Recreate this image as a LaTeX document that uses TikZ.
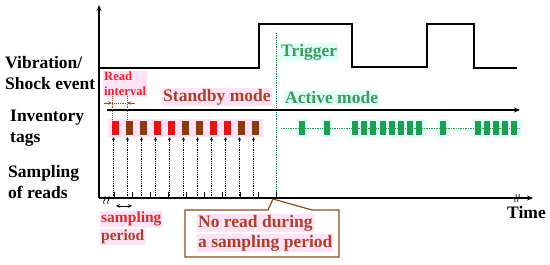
\documentclass[tikz,border=0pt]{standalone}
\usepackage{fontspec}
\setmainfont{Liberation Serif}
\usetikzlibrary{arrows.meta}
\definecolor{redtxt}{HTML}{E2262E}
\definecolor{browntxt}{HTML}{A3432A}
\definecolor{greentxt}{HTML}{3C9A5C}
\definecolor{tagred}{HTML}{E01414}
\definecolor{tagbrown}{HTML}{8A3A10}
\definecolor{taggreen}{HTML}{1F9E52}
\definecolor{pinkbg}{HTML}{FFE2F6}
\definecolor{cyanbg}{HTML}{DDFFF8}
\definecolor{callbrd}{HTML}{8E4A1C}
\tikzset{
  big/.style={font=\fontsize{17.5}{21}\selectfont\bfseries},
  lbl/.style={big, anchor=west, inner sep=0pt, align=left},
  axisline/.style={line width=1.4pt, -{Stealth[length=6pt,width=5pt]}},
  sigline/.style={line width=1.8pt},
  tagR/.style={fill=tagred, draw=none},
  tagB/.style={fill=tagbrown, draw=none},
  tagG/.style={fill=taggreen, draw=none},
  readarrow/.style={densely dotted, line width=0.8pt, -{Stealth[length=3.5pt,width=3pt]}},
  smallarrow/.style={line width=0.8pt, -{Stealth[length=4pt,width=3.5pt]}},
}
\begin{document}
\begin{tikzpicture}[x=1pt,y=-1pt]
\useasboundingbox (0,0) rectangle (550,265);

% left labels
\node[lbl] (vib) at (5,73) {\fontsize{17.5}{22}\selectfont Vibration/\\Shock event};
\node[lbl] (inv) at (10,128) {Inventory\\tags};
\node[lbl] (samp) at (8,182) {\fontsize{17.5}{19.5}\selectfont Sampling\\of reads};

% axes
\coordinate (O) at (99,198);
\coordinate (ytop) at (99,5);
\coordinate (xend) at (533,198);
\draw[axisline] (O) -- (ytop);
\draw[axisline] (O) -- (xend);

% signal
\draw[sigline] (99,68) -- (259,68) -- (259,24) -- (352,24) -- (352,67) -- (427,67) -- (427,24) -- (474,24) -- (474,68) -- (517,68);

% highlight backgrounds
\fill[pinkbg] (108,119) rectangle (263,137);
\fill[cyanbg] (296,119) rectangle (308,137);
\fill[cyanbg] (321,119) rectangle (332,137);
\fill[cyanbg] (349,119) rectangle (426,137);
\fill[cyanbg] (437,119) rectangle (449,137);
\fill[cyanbg] (472,119) rectangle (521,137);

% trigger line
\coordinate (trigtop) at (276,33);
\coordinate (trigbot) at (276,198);
\draw[taggreen!80!black, densely dotted, line width=0.8pt] (trigtop) -- (trigbot);
\node[lbl, text=greentxt, fill=cyanbg, inner sep=1pt] (trig) at (280,52) {Trigger};

% mode arrow
\coordinate (ms) at (107,110);
\coordinate (me) at (520,110);
\draw[axisline] (ms) -- (me);
\node[lbl, text=browntxt, fill=pinkbg, inner sep=1pt] (standby) at (162,97) {Standby mode};
\node[lbl, text=greentxt, fill=cyanbg, inner sep=1pt] (active) at (284,98) {Active mode};

% read interval
\node[lbl, text=redtxt, fill=pinkbg, inner sep=1pt, font=\fontsize{12.6}{15}\selectfont\bfseries] (ri) at (103,84) {Read\\interval};
\draw[browntxt, densely dotted, line width=0.9pt] (112,96) -- (112,121);
\draw[browntxt, densely dotted, line width=0.9pt] (127,96) -- (127,121);
\coordinate (ria) at (104,103);
\coordinate (rib) at (112,103);
\coordinate (ric) at (127,103);
\coordinate (rid) at (135,103);
\draw[browntxt, smallarrow] (ria) -- (rib);
\draw[browntxt, smallarrow] (rid) -- (ric);
\draw[browntxt, densely dotted, line width=0.9pt] (rib) -- (ric);

% standby tags and read arrows
\foreach \k/\c in {0/tagR,1/tagB,2/tagB,3/tagR,4/tagR,5/tagB,6/tagB,7/tagR,8/tagR,9/tagB,10/tagB}{
  \fill[\c] (112+14*\k,121) rectangle ++(7,14);
  \draw[readarrow] (113.5+14*\k,198) -- (113.5+14*\k,137);
}

% ticks
\foreach \k in {0,...,9}{
  \draw[line width=1pt] (114+18*\k,198) -- ++(0,-6);
}

% active tags
\draw[taggreen, densely dotted, line width=0.7pt] (281,128) -- (520,128);
\foreach \x in {299,324,352,361.2,370.4,379.6,388.8,398,407.2,416.4,440,475,484,493,502,511}{
  \fill[tagG] (\x,121) rectangle ++(6,14);
}

% axis breaks
\foreach \bx in {105,109}{
  \draw[line width=0.7pt] (\bx-1,204) .. controls (\bx-3,201) and (\bx+2,199) .. (\bx,196);
}
\foreach \bx in {516,519}{
  \draw[line width=0.7pt] (\bx-1,202) .. controls (\bx-3,199) and (\bx+2,197) .. (\bx,194);
}

% sampling period
\coordinate (spa) at (116,206);
\coordinate (spb) at (132,206);
\draw[line width=0.8pt, {Stealth[length=4pt,width=3.5pt]}-{Stealth[length=4pt,width=3.5pt]}] (spa) -- (spb);
\node[lbl, text=redtxt!80!browntxt, fill=pinkbg, inner sep=1pt, font=\fontsize{15.5}{18}\selectfont\bfseries] (sampw) at (100,219) {sampling};
\node[lbl, text=browntxt, fill=pinkbg, inner sep=1pt, font=\fontsize{15.5}{18}\selectfont\bfseries] (perw) at (100,237) {period};

% callout
\draw[callbrd, fill=white, line width=1.2pt, line join=miter] (185,210) -- (268,210) -- (273,199) -- (312,210) -- (339,210) -- (339,257) -- (185,257) -- cycle;
\node[lbl, text=browntxt!85!redtxt, fill=pinkbg, inner sep=1pt] (nr1) at (197,223) {No read during};
\node[lbl, text=browntxt!85!redtxt, fill=pinkbg, inner sep=1pt] (nr2) at (197,243) {a sampling period};

% time
\node[lbl] (time) at (507,213) {Time};
\end{tikzpicture}
\end{document}
